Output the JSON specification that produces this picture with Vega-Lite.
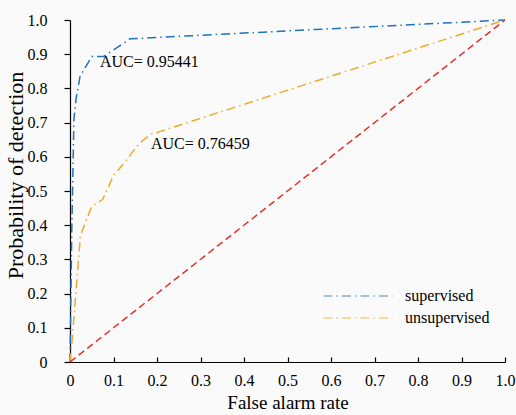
{
  "$schema": "https://vega.github.io/schema/vega-lite/v6.json",
  "width": 435,
  "height": 342,
  "autosize": {"type": "none"},
  "padding": {"left": 70, "top": 20, "right": 11, "bottom": 53},
  "background": "#fafafa",
  "config": {
    "view": {"stroke": null},
    "font": "Liberation Serif",
    "axis": {
      "grid": false,
      "domainColor": "#000000",
      "domainWidth": 1.2,
      "tickColor": "#000000",
      "tickWidth": 1.2,
      "labelFont": "Liberation Serif",
      "labelFontSize": 16,
      "labelColor": "#000000",
      "labelOverlap": false,
      "labelFlush": false,
      "labelBound": false,
      "titleFont": "Liberation Serif",
      "titleFontSize": 19,
      "titleFontWeight": "normal",
      "titleColor": "#000000"
    },
    "legend": {
      "title": null,
      "orient": "none",
      "legendX": 280,
      "legendY": 268,
      "padding": 0,
      "symbolType": "M-10,0H10",
      "symbolSize": 47.6,
      "symbolStrokeWidth": 1.5,
      "symbolOpacity": 0.55,
      "labelFont": "Liberation Serif",
      "labelFontSize": 16,
      "labelColor": "#000000",
      "labelOffset": 39,
      "rowPadding": 6
    }
  },
  "encoding": {
    "x": {
      "field": "far",
      "type": "quantitative",
      "title": "False alarm rate",
      "scale": {"domain": [0, 1], "nice": false, "zero": false},
      "axis": {
        "values": [0, 0.1, 0.2, 0.3, 0.4, 0.5, 0.6, 0.7, 0.8, 0.9, 1],
        "labelExpr": "datum.value === 0 ? '0' : format(datum.value, '.1f')",
        "labelOverlap": false,
        "tickSize": -5,
        "labelPadding": 15,
        "titlePadding": 5
      }
    },
    "y": {
      "field": "pd",
      "type": "quantitative",
      "title": "Probability of detection",
      "scale": {"domain": [0, 1], "nice": false, "zero": false},
      "axis": {
        "values": [0, 0.1, 0.2, 0.3, 0.4, 0.5, 0.6, 0.7, 0.8, 0.9, 1],
        "labelExpr": "datum.value === 0 ? '0' : format(datum.value, '.1f')",
        "labelOverlap": false,
        "tickSize": 6,
        "labelPadding": 17,
        "titleFontSize": 22,
        "titleX": -43,
        "titleY": 155,
        "titleBaseline": "bottom",
        "titleAlign": "center",
        "titleAngle": -90
      }
    }
  },
  "layer": [
    {
      "data": {
        "values": [
          {"series": "supervised", "far": 0, "pd": 0},
          {"series": "supervised", "far": 0.004, "pd": 0.38},
          {"series": "supervised", "far": 0.009, "pd": 0.71},
          {"series": "supervised", "far": 0.014, "pd": 0.77},
          {"series": "supervised", "far": 0.023, "pd": 0.835},
          {"series": "supervised", "far": 0.05, "pd": 0.893},
          {"series": "supervised", "far": 0.077, "pd": 0.893},
          {"series": "supervised", "far": 0.138, "pd": 0.945},
          {"series": "supervised", "far": 1, "pd": 1},
          {"series": "unsupervised", "far": 0, "pd": 0},
          {"series": "unsupervised", "far": 0.004, "pd": 0.05},
          {"series": "unsupervised", "far": 0.024, "pd": 0.37},
          {"series": "unsupervised", "far": 0.05, "pd": 0.455},
          {"series": "unsupervised", "far": 0.075, "pd": 0.475},
          {"series": "unsupervised", "far": 0.1, "pd": 0.545},
          {"series": "unsupervised", "far": 0.12, "pd": 0.575},
          {"series": "unsupervised", "far": 0.16, "pd": 0.64},
          {"series": "unsupervised", "far": 0.185, "pd": 0.665},
          {"series": "unsupervised", "far": 1, "pd": 1},
          {"series": "chance", "far": 0, "pd": 0},
          {"series": "chance", "far": 1, "pd": 1}
        ]
      },
      "mark": {"type": "line", "strokeWidth": 1.5},
      "encoding": {
        "color": {
          "field": "series",
          "type": "nominal",
          "scale": {
            "domain": ["supervised", "unsupervised", "chance"],
            "range": ["#1f72bd", "#eeab2c", "#e0352b"]
          },
          "legend": {"values": ["supervised", "unsupervised"]}
        },
        "strokeDash": {
          "field": "series",
          "type": "nominal",
          "scale": {
            "domain": ["supervised", "unsupervised", "chance"],
            "range": [[9, 4, 1.5, 4], [9, 4, 1.5, 4], [7, 4]]
          },
          "legend": {"values": ["supervised", "unsupervised"]}
        }
      }
    },
    {
      "data": {
        "values": [
          {"far": 0.069, "pd": 0.877, "label": "AUC= 0.95441"},
          {"far": 0.186, "pd": 0.637, "label": "AUC= 0.76459"}
        ]
      },
      "mark": {"type": "text", "align": "left", "baseline": "middle", "font": "Liberation Serif", "fontSize": 16, "color": "#000000"},
      "encoding": {
        "text": {"field": "label"}
      }
    }
  ]
}
